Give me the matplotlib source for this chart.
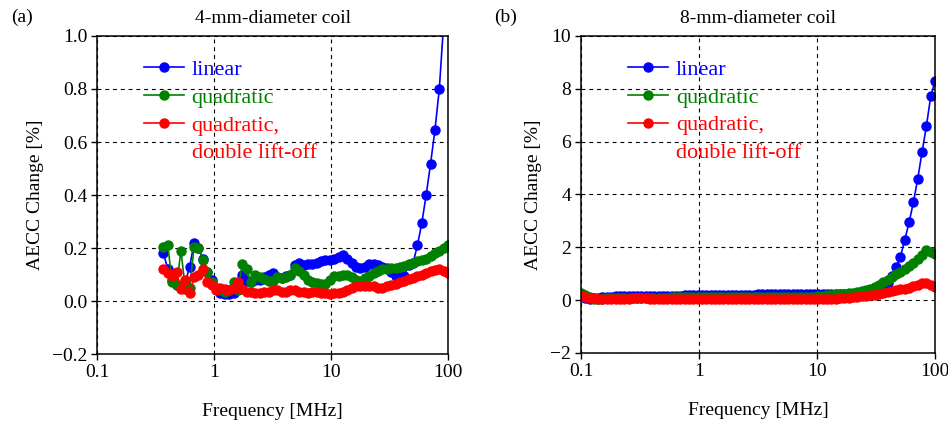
import matplotlib
matplotlib.use("Agg")
import matplotlib.pyplot as plt
from matplotlib.lines import Line2D
from matplotlib.ticker import FixedLocator, FixedFormatter, NullLocator

plt.rcParams['font.family'] = ['Liberation Serif', 'DejaVu Serif']
plt.rcParams['mathtext.fontset'] = 'stix'

# ---------------- data: panel (a) 4-mm coil ----------------
freq_a = [0.370, 0.403, 0.439, 0.479, 0.522, 0.569, 0.620, 0.676, 0.737, 0.803,
          0.875, 0.954, 1.040, 1.134, 1.236, 1.347, 1.468, 1.601, 1.745, 1.901,
          2.072, 2.259, 2.462, 2.684, 2.925, 3.188, 3.475, 3.788, 4.129, 4.500,
          4.906, 5.348, 5.829, 6.353, 6.925, 7.548, 8.228, 8.968, 9.772, 10.65,
          11.61, 12.66, 13.80, 15.04, 16.39, 17.86, 19.47, 21.23, 23.14, 25.22,
          27.48, 29.96, 32.66, 35.59, 38.79, 42.28, 46.09, 50.23, 54.75, 59.68,
          65.05, 70.91, 77.29, 84.25, 91.82, 100.0]
linear_a = [0.18, 0.12, 0.08, 0.06, 0.05, 0.07, 0.13, 0.22, 0.20, 0.16,
            0.11, 0.08, 0.05, 0.03, 0.025, 0.025, 0.03, 0.06, 0.10, 0.075,
            0.07, 0.08, 0.08, 0.09, 0.10, 0.105, 0.09, 0.085, 0.095, 0.10,
            0.135, 0.145, 0.135, 0.14, 0.14, 0.145, 0.15, 0.155, 0.155, 0.16,
            0.165, 0.175, 0.16, 0.145, 0.13, 0.125, 0.13, 0.14, 0.14, 0.135,
            0.13, 0.125, 0.11, 0.095, 0.09, 0.095, 0.135, 0.143, 0.21, 0.294,
            0.40, 0.518, 0.645, 0.80, 1.05, 1.45]
quad_a = [0.205, 0.21, 0.07, 0.06, 0.19, 0.045, 0.05, 0.205, 0.20, 0.155,
          0.11, 0.07, 0.05, 0.04, 0.035, 0.04, 0.07, 0.04, 0.14, 0.12,
          0.07, 0.10, 0.09, 0.082, 0.075, 0.075, 0.09, 0.085, 0.09, 0.10,
          0.125, 0.115, 0.10, 0.08, 0.07, 0.068, 0.066, 0.063, 0.08, 0.094,
          0.095, 0.10, 0.098, 0.09, 0.08, 0.075, 0.085, 0.095, 0.105, 0.113,
          0.12, 0.122, 0.124, 0.126, 0.128, 0.132, 0.138, 0.145, 0.15, 0.155,
          0.16, 0.17, 0.18, 0.19, 0.20, 0.21]
quad2_a = [0.12, 0.107, 0.094, 0.11, 0.045, 0.08, 0.03, 0.09, 0.10, 0.12,
           0.07, 0.06, 0.04, 0.05, 0.045, 0.04, 0.05, 0.07, 0.045, 0.035,
           0.035, 0.03, 0.03, 0.035, 0.035, 0.04, 0.04, 0.035, 0.035, 0.04,
           0.04, 0.035, 0.035, 0.03, 0.035, 0.035, 0.03, 0.03, 0.025, 0.03,
           0.032, 0.035, 0.04, 0.05, 0.056, 0.057, 0.058, 0.057, 0.055, 0.05,
           0.05, 0.055, 0.06, 0.065, 0.07, 0.076, 0.082, 0.088, 0.094, 0.10,
           0.106, 0.113, 0.118, 0.12, 0.112, 0.107]

# ---------------- data: panel (b) 8-mm coil ----------------
freq_b = [0.100, 0.109, 0.118, 0.129, 0.140, 0.152, 0.166, 0.180, 0.196, 0.214,
          0.232, 0.253, 0.275, 0.299, 0.325, 0.354, 0.385, 0.419, 0.456, 0.496,
          0.539, 0.587, 0.638, 0.694, 0.755, 0.822, 0.894, 0.972, 1.058, 1.151,
          1.252, 1.362, 1.482, 1.612, 1.754, 1.908, 2.075, 2.258, 2.456, 2.672,
          2.907, 3.162, 3.440, 3.743, 4.072, 4.430, 4.819, 5.242, 5.703, 6.205,
          6.750, 7.343, 7.989, 8.691, 9.455, 10.29, 11.19, 12.17, 13.24, 14.41,
          15.67, 17.05, 18.55, 20.18, 21.95, 23.88, 25.98, 28.27, 30.75, 33.46,
          36.40, 39.59, 43.08, 46.86, 50.98, 55.46, 60.34, 65.64, 71.41, 77.69,
          84.51, 91.94, 100.0]
linear_b = [0.20, 0.10, 0.06, 0.08, 0.10, 0.11, 0.12, 0.13, 0.14, 0.15,
            0.15, 0.14, 0.14, 0.15, 0.15, 0.15, 0.16, 0.16, 0.16, 0.16,
            0.17, 0.17, 0.17, 0.17, 0.18, 0.18, 0.18, 0.18, 0.19, 0.19,
            0.19, 0.19, 0.20, 0.20, 0.20, 0.20, 0.20, 0.20, 0.20, 0.21,
            0.21, 0.22, 0.22, 0.22, 0.22, 0.22, 0.23, 0.23, 0.23, 0.24,
            0.24, 0.25, 0.25, 0.25, 0.25, 0.25, 0.25, 0.25, 0.25, 0.25,
            0.25, 0.25, 0.25, 0.25, 0.25, 0.26, 0.28, 0.30, 0.33, 0.38,
            0.48, 0.65, 0.90, 1.25, 1.65, 2.29, 2.95, 3.71, 4.60, 5.61,
            6.59, 7.71, 8.28]
quad_b = [0.28, 0.20, 0.12, 0.05, 0.03, 0.05, 0.07, 0.08, 0.08, 0.09,
          0.09, 0.09, 0.10, 0.10, 0.10, 0.10, 0.10, 0.10, 0.10, 0.10,
          0.10, 0.11, 0.11, 0.11, 0.11, 0.11, 0.11, 0.11, 0.11, 0.12,
          0.12, 0.12, 0.12, 0.12, 0.12, 0.12, 0.12, 0.12, 0.13, 0.13,
          0.13, 0.13, 0.13, 0.13, 0.13, 0.13, 0.13, 0.13, 0.13, 0.13,
          0.13, 0.13, 0.13, 0.13, 0.13, 0.14, 0.16, 0.18, 0.20, 0.22,
          0.23, 0.24, 0.26, 0.28, 0.30, 0.33, 0.37, 0.42, 0.50, 0.58,
          0.68, 0.78, 0.88, 0.98, 1.08, 1.18, 1.30, 1.42, 1.55, 1.70,
          1.90, 1.82, 1.75]
quad2_b = [0.17, 0.13, 0.10, 0.08, 0.06, 0.05, 0.05, 0.05, 0.05, 0.05,
           0.05, 0.06, 0.07, 0.08, 0.08, 0.07, 0.06, 0.05, 0.05, 0.05,
           0.05, 0.05, 0.05, 0.05, 0.05, 0.05, 0.05, 0.05, 0.05, 0.05,
           0.05, 0.05, 0.05, 0.05, 0.05, 0.05, 0.05, 0.05, 0.05, 0.05,
           0.05, 0.05, 0.05, 0.05, 0.05, 0.05, 0.05, 0.05, 0.05, 0.05,
           0.05, 0.05, 0.05, 0.05, 0.05, 0.05, 0.05, 0.06, 0.06, 0.06,
           0.07, 0.08, 0.10, 0.12, 0.13, 0.15, 0.17, 0.19, 0.21, 0.24,
           0.27, 0.30, 0.33, 0.37, 0.41, 0.44, 0.47, 0.52, 0.58, 0.64,
           0.66, 0.56, 0.50]

labels = ['linear', 'quadratic', 'quadratic,']
label_extra = 'double lift-off'
colors = ['#0000ff', '#008000', '#ff0000']

x_ticks = [0.1, 1, 10, 100]
x_ticklabels = ['0.1', '1', '10', '100']
yticks_a = [-0.2, 0.0, 0.2, 0.4, 0.6, 0.8, 1.0]
yticklabels_a = ['\u22120.2', '0.0', '0.2', '0.4', '0.6', '0.8', '1.0']
yticks_b = [-2, 0, 2, 4, 6, 8, 10]
yticklabels_b = ['\u22122', '0', '2', '4', '6', '8', '10']

fig = plt.figure(figsize=(9.48, 4.23), dpi=100)
ax_a = fig.add_axes([0.1023, 0.1631, 0.3703, 0.7518])
ax_b = fig.add_axes([0.6129, 0.1655, 0.3734, 0.7494])

FS = 14
LFS = 16

def style(ax, ys, ylabels, ylim, title, tag):
    ax.set_xscale('log')
    ax.set_xlim(0.1, 100)
    ax.set_ylim(*ylim)
    ax.xaxis.set_major_locator(FixedLocator(x_ticks))
    ax.xaxis.set_major_formatter(FixedFormatter(x_ticklabels))
    ax.xaxis.set_minor_locator(NullLocator())
    ax.yaxis.set_major_locator(FixedLocator(ys))
    ax.yaxis.set_major_formatter(FixedFormatter(ylabels))
    ax.tick_params(direction='out', length=4, width=1, labelsize=FS, pad=3)
    ax.grid(True, which='major', color='black', linestyle=(0, (3.5, 3.5)), linewidth=0.8)
    for s in ax.spines.values():
        s.set_linewidth(1.1)
    ax.set_xlabel('Frequency [MHz]', fontsize=FS, labelpad=16)
    ax.set_ylabel('AECC Change [%]', fontsize=FS, labelpad=6)
    ax.set_title(title, fontsize=FS, pad=9)
    ax.text(-0.245, 1.03, tag, transform=ax.transAxes, fontsize=FS, va='bottom', ha='left')
    ax.set_axisbelow(True)

def draw(ax, f, series):
    handles = []
    for vals, lab, c in zip(series, labels, colors):
        ln, = ax.plot(f, vals, '-o', color=c, label=lab, markersize=6.5, linewidth=1.2)
        handles.append(ln)
    extra = Line2D([], [], color=colors[2], linestyle='none', marker=None)
    ax.legend(handles + [extra], labels + [label_extra],
              loc='upper left', bbox_to_anchor=(0.108, 0.955), frameon=False,
              fontsize=LFS, handlelength=1.8, handletextpad=0.35,
              labelspacing=0.33, borderaxespad=0, labelcolor='linecolor')

draw(ax_a, freq_a, [linear_a, quad_a, quad2_a])
style(ax_a, yticks_a, yticklabels_a, (-0.2, 1.0), '4-mm-diameter coil', '(a)')

draw(ax_b, freq_b, [linear_b, quad_b, quad2_b])
style(ax_b, yticks_b, yticklabels_b, (-2, 10), '8-mm-diameter coil', '(b)')

fig.savefig('out.png', dpi=100)
